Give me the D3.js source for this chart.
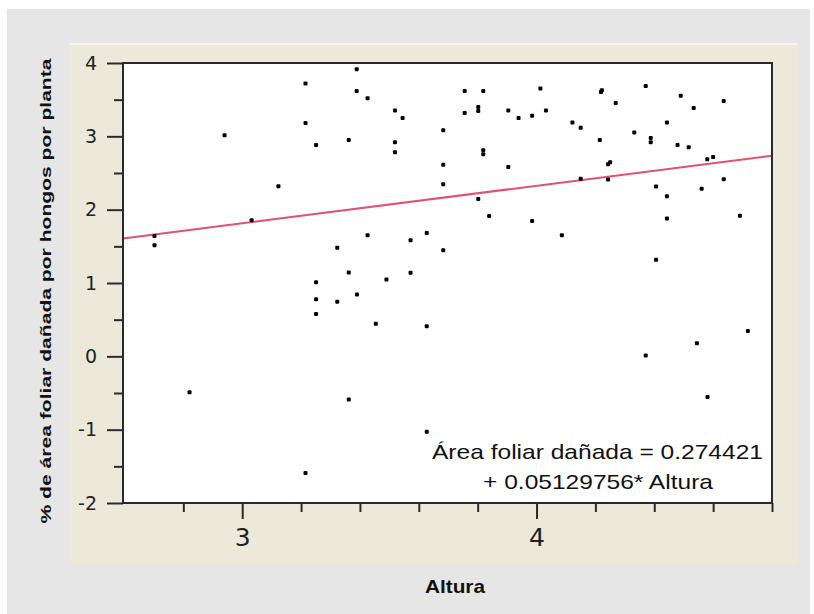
<!DOCTYPE html>
<html>
<head>
<meta charset="utf-8">
<script src="https://cdn.jsdelivr.net/npm/d3@7"></script>
<style>
  html, body { margin: 0; padding: 0; background: #fff; }
  svg { display: block; }
</style>
</head>
<body>
<svg width="814" height="614"></svg>
<script>
// valores (Altura vs % area foliar dañada)
const altura = [2.702, 2.702, 2.821, 2.940, 3.032, 3.123, 3.215, 3.215, 3.215, 3.251,
  3.251, 3.251, 3.251, 3.323, 3.323, 3.362, 3.362, 3.362, 3.389, 3.389,
  3.390, 3.426, 3.426, 3.454, 3.490, 3.519, 3.519, 3.519, 3.545, 3.572,
  3.572, 3.627, 3.627, 3.627, 3.683, 3.683, 3.683, 3.683, 3.756, 3.756,
  3.802, 3.802, 3.802, 3.819, 3.819, 3.819, 3.839, 3.904, 3.904, 3.939,
  3.985, 3.985, 4.013, 4.032, 4.086, 4.122, 4.150, 4.150, 4.215, 4.219,
  4.222, 4.243, 4.250, 4.243, 4.269, 4.332, 4.371, 4.371, 4.388, 4.388,
  4.406, 4.406, 4.443, 4.443, 4.443, 4.479, 4.490, 4.545, 4.517, 4.534,
  4.561, 4.580, 4.600, 4.581, 4.636, 4.636, 4.691, 4.718];
const danio = [1.641, 1.514, -0.491, 3.014, 1.855, 2.318, 3.719, 3.181, -1.591, 2.881,
  1.009, 0.777, 0.577, 1.482, 0.746, 2.950, 1.143, -0.590, 3.914, 3.618,
  0.843, 3.518, 1.650, 0.445, 1.047, 3.351, 2.918, 2.782, 3.250, 1.582,
  1.141, 1.681, 0.409, -1.027, 3.082, 2.614, 2.346, 1.446, 3.618, 3.318,
  3.400, 3.345, 2.145, 3.618, 2.809, 2.755, 1.913, 3.351, 2.581, 3.250,
  3.282, 1.845, 3.651, 3.351, 1.650, 3.187, 3.116, 2.423, 2.950, 3.604,
  3.627, 2.618, 2.646, 2.410, 3.454, 3.051, 3.687, 0.010, 2.977, 2.918,
  2.316, 1.316, 3.187, 2.182, 1.879, 2.883, 3.554, 0.177, 2.850, 3.385,
  2.284, 2.686, 2.718, -0.555, 3.482, 2.416, 1.916, 0.344];

const yMajor = [-2, -1, 0, 1, 2, 3, 4];
const yMinor = [-1.5, -0.5, 0.5, 1.5, 2.5, 3.5];
const xMajor = [3, 4];
const xMinor = [2.8, 3.2, 3.4, 3.6, 3.8, 4.2, 4.4, 4.6, 4.8];

const intercepto = 0.274421, pendiente = 0.5129756;
const ecuacion = ["Área foliar dañada = 0.274421", "+ 0.05129756* Altura"];

const margin = {top: 63, right: 42, bottom: 111, left: 123};
const svg = d3.select("svg"),
    width = +svg.attr("width") - margin.left - margin.right,
    height = +svg.attr("height") - margin.top - margin.bottom;

// fondos
svg.append("rect").attr("x", 7).attr("y", 9).attr("width", 803).attr("height", 605).attr("fill", "#e6e6e6");
svg.append("rect").attr("x", 69).attr("y", 43).attr("width", 728).attr("height", 522).attr("fill", "#ece9da");
svg.append("rect").attr("x", 69).attr("y", 43).attr("width", 728).attr("height", 2).attr("fill", "#f6f4ec");

const g = svg.append("g").attr("transform", `translate(${margin.left},${margin.top})`);

const x = d3.scaleLinear().domain([2.595, 4.8]).range([0, width]);
const y = d3.scaleLinear().domain([-2, 4]).range([height, 0]);

g.append("rect").attr("width", width).attr("height", height).attr("fill", "#fff");

// recta de regresion
const xd = x.domain();
g.append("line")
    .attr("x1", x(xd[0])).attr("y1", y(intercepto + pendiente * xd[0]))
    .attr("x2", x(xd[1])).attr("y2", y(intercepto + pendiente * xd[1]))
    .attr("stroke", "#e4506f")
    .attr("stroke-width", 2);

// puntos
g.selectAll(".pt")
    .data(altura.map((a, i) => [a, danio[i]]))
    .enter().append("rect")
    .attr("class", "pt")
    .attr("x", d => x(d[0]) - 2)
    .attr("y", d => y(d[1]) - 2)
    .attr("width", 4).attr("height", 4)
    .attr("rx", 1)
    .attr("fill", "#000");

// marco
g.append("rect").attr("width", width).attr("height", height)
    .attr("fill", "none").attr("stroke", "#2a2a2a").attr("stroke-width", 2);

function styleAxis(sel) {
    sel.select(".domain").remove();
    sel.selectAll(".tick line").attr("stroke", "#2a2a2a").attr("stroke-width", 2);
    sel.selectAll(".tick text").attr("fill", "#222").attr("font-family", "DejaVu Sans");
}

g.append("g")
    .call(d3.axisLeft(y).tickValues(yMajor).tickSize(16).tickPadding(10).tickFormat(d => String(d)))
    .call(styleAxis)
    .selectAll(".tick text").attr("font-size", 19);

g.append("g")
    .call(d3.axisLeft(y).tickValues(yMinor).tickSize(9).tickFormat(""))
    .call(styleAxis);

g.append("g")
    .attr("transform", `translate(0,${height})`)
    .call(d3.axisBottom(x).tickValues(xMajor).tickSize(16).tickPadding(9).tickFormat(d => String(d)))
    .call(styleAxis)
    .selectAll(".tick text").attr("font-size", 25);

g.append("g")
    .attr("transform", `translate(0,${height})`)
    .call(d3.axisBottom(x).tickValues(xMinor).tickSize(9).tickFormat(""))
    .call(styleAxis);

// ecuacion
g.append("text")
    .attr("x", 640).attr("y", 396)
    .attr("text-anchor", "end")
    .attr("font-family", "Liberation Sans, Arial, sans-serif")
    .attr("font-size", 21)
    .attr("textLength", 331)
    .attr("lengthAdjust", "spacingAndGlyphs")
    .attr("fill", "#111")
    .text(ecuacion[0]);

g.append("text")
    .attr("x", 590).attr("y", 426)
    .attr("text-anchor", "end")
    .attr("font-family", "Liberation Sans, Arial, sans-serif")
    .attr("font-size", 21)
    .attr("textLength", 230)
    .attr("lengthAdjust", "spacingAndGlyphs")
    .attr("fill", "#111")
    .text(ecuacion[1]);

// titulos de ejes
svg.append("text")
    .attr("x", 455).attr("y", 593)
    .attr("text-anchor", "middle")
    .attr("font-family", "Liberation Sans, Arial, sans-serif")
    .attr("font-weight", "bold")
    .attr("font-size", 19)
    .attr("textLength", 60)
    .attr("lengthAdjust", "spacingAndGlyphs")
    .attr("fill", "#111")
    .text("Altura");

svg.append("text")
    .attr("transform", "translate(51,291) rotate(-90)")
    .attr("text-anchor", "middle")
    .attr("font-family", "Liberation Sans, Arial, sans-serif")
    .attr("font-weight", "bold")
    .attr("font-size", 15)
    .attr("textLength", 465)
    .attr("lengthAdjust", "spacingAndGlyphs")
    .attr("fill", "#111")
    .text("% de área foliar dañada por hongos por planta");
</script>
</body>
</html>
